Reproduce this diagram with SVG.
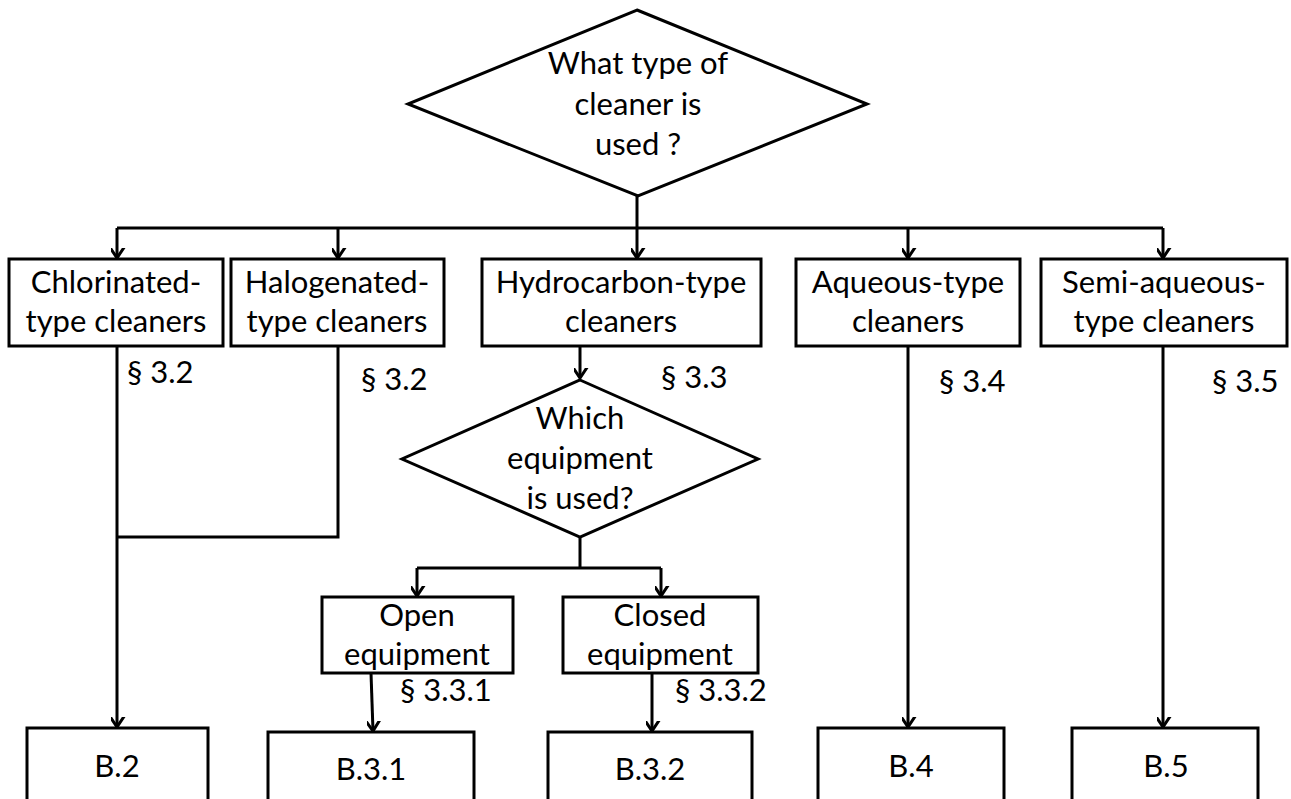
<svg xmlns="http://www.w3.org/2000/svg" width="1291" height="799" viewBox="0 0 1291 799">
<defs>
<marker id="arr" markerWidth="20" markerHeight="20" viewBox="-10 -14 20 20" refX="0" refY="0" markerUnits="userSpaceOnUse" orient="auto-start-reverse">
<polyline points="-12,-8 0,0 -12,8" fill="none" stroke="#000" stroke-width="3"/>
</marker>
<style>
.s{fill:#fff;stroke:#000;stroke-width:3}
.c{fill:none;stroke:#000;stroke-width:3}
.t{font-family:Lato,"Open Sans",sans-serif;font-size:31px;fill:#000;text-anchor:middle}
.l{font-family:Lato,"Open Sans",sans-serif;font-size:31px;fill:#000}
</style>
</defs>
<rect width="1291" height="799" fill="#fff"/>
<g id="connectors">
<path class="c" d="M637,196 V258" marker-end="url(#arr)"/>
<path class="c" d="M117,228 H1163"/>
<path class="c" d="M117,228 V258" marker-end="url(#arr)"/>
<path class="c" d="M338,228 V258" marker-end="url(#arr)"/>
<path class="c" d="M908,228 V258" marker-end="url(#arr)"/>
<path class="c" d="M1163,228 V258" marker-end="url(#arr)"/>
<path class="c" d="M117,346 V727" marker-end="url(#arr)"/>
<path class="c" d="M338,346 V537 H117"/>
<path class="c" d="M580,346 V378" marker-end="url(#arr)"/>
<path class="c" d="M580,537 V568"/>
<path class="c" d="M417,568 H661"/>
<path class="c" d="M417,568 V596" marker-end="url(#arr)"/>
<path class="c" d="M661,568 V596" marker-end="url(#arr)"/>
<path class="c" d="M371,673 L373,731" marker-end="url(#arr)"/>
<path class="c" d="M652,673 V731" marker-end="url(#arr)"/>
<path class="c" d="M908,346 V727" marker-end="url(#arr)"/>
<path class="c" d="M1163,346 V727" marker-end="url(#arr)"/>
<text class="l" x="127" y="383">§ 3.2</text>
<text class="l" x="361" y="390">§ 3.2</text>
<text class="l" x="661" y="388">§ 3.3</text>
<text class="l" x="939" y="392">§ 3.4</text>
<text class="l" x="1212" y="392">§ 3.5</text>
<text class="l" x="400" y="701">§ 3.3.1</text>
<text class="l" x="675" y="701">§ 3.3.2</text>
</g>
<g id="q1">
<polygon class="s" points="637,10 867,104 638,196 408,104"/>
<text class="t" x="638" y="74">What type of</text>
<text class="t" x="638" y="115">cleaner is</text>
<text class="t" x="638" y="155">used ?</text>
</g>
<g id="chlorinated">
<rect class="s" x="9" y="259" width="214" height="87"/>
<text class="t" x="116" y="293">Chlorinated-</text>
<text class="t" x="116" y="332">type cleaners</text>
</g>
<g id="halogenated">
<rect class="s" x="231" y="259" width="213" height="87"/>
<text class="t" x="337" y="293">Halogenated-</text>
<text class="t" x="337" y="332">type cleaners</text>
</g>
<g id="hydrocarbon">
<rect class="s" x="482" y="259" width="279" height="87"/>
<text class="t" x="621" y="293">Hydrocarbon-type</text>
<text class="t" x="621" y="332">cleaners</text>
</g>
<g id="aqueous">
<rect class="s" x="796" y="259" width="224" height="87"/>
<text class="t" x="908" y="293">Aqueous-type</text>
<text class="t" x="908" y="332">cleaners</text>
</g>
<g id="semiaqueous">
<rect class="s" x="1041" y="259" width="246" height="87"/>
<text class="t" x="1164" y="293">Semi-aqueous-</text>
<text class="t" x="1164" y="332">type cleaners</text>
</g>
<g id="q2">
<polygon class="s" points="580,380 758,459 580,537 402,459"/>
<text class="t" x="580" y="429">Which</text>
<text class="t" x="580" y="469">equipment</text>
<text class="t" x="580" y="509">is used?</text>
</g>
<g id="open">
<rect class="s" x="322" y="597" width="191" height="76"/>
<text class="t" x="417" y="626">Open</text>
<text class="t" x="417" y="665">equipment</text>
</g>
<g id="closed">
<rect class="s" x="563" y="597" width="195" height="76"/>
<text class="t" x="660" y="626">Closed</text>
<text class="t" x="660" y="665">equipment</text>
</g>
<g id="b2">
<rect class="s" x="27" y="728" width="181" height="90"/>
<text class="t" x="117" y="777">B.2</text>
</g>
<g id="b31">
<rect class="s" x="268" y="732" width="206" height="90"/>
<text class="t" x="371" y="780">B.3.1</text>
</g>
<g id="b32">
<rect class="s" x="548" y="732" width="204" height="90"/>
<text class="t" x="650" y="780">B.3.2</text>
</g>
<g id="b4">
<rect class="s" x="818" y="728" width="186" height="90"/>
<text class="t" x="911" y="777">B.4</text>
</g>
<g id="b5">
<rect class="s" x="1072" y="728" width="186" height="90"/>
<text class="t" x="1166" y="777">B.5</text>
</g>
</svg>
